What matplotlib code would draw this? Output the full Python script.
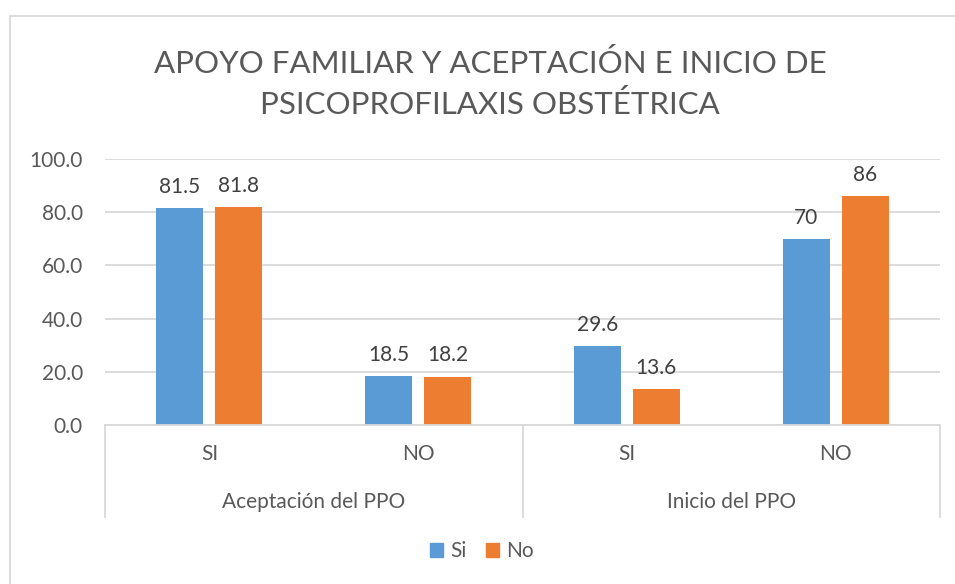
import numpy as np
import matplotlib
matplotlib.use("Agg")
import matplotlib.pyplot as plt
from matplotlib.patches import Rectangle, Patch
from matplotlib.transforms import blended_transform_factory

# Datos del gráfico
categorias = ["SI", "NO", "SI", "NO"]
grupos = ["Aceptación del PPO", "Inicio del PPO"]
serie_si = [81.5, 18.5, 29.6, 70]
serie_no = [81.8, 18.2, 13.6, 86]
etiquetas_si = ["81.5", "18.5", "29.6", "70"]
etiquetas_no = ["81.8", "18.2", "13.6", "86"]
titulo = "APOYO FAMILIAR Y ACEPTACIÓN E INICIO DE\nPSICOPROFILAXIS OBSTÉTRICA"

azul = "#5B9BD5"
naranja = "#ED7D31"
gris_texto = "#595959"
gris_linea = "#D9D9D9"

plt.rcParams["font.family"] = ["Lato", "DejaVu Sans"]
tam = 15

fig = plt.figure(figsize=(9.55, 5.84), dpi=100)
ax = fig.add_axes([105 / 955, 159 / 584, 835 / 955, 266 / 584])

x = np.arange(len(categorias))
ancho = 0.225
desp = 0.141
barras_si = ax.bar(x - desp, serie_si, ancho, color=azul, label="Si")
barras_no = ax.bar(x + desp, serie_no, ancho, color=naranja, label="No")

# Etiquetas de datos
for barras, etiquetas in [(barras_si, etiquetas_si), (barras_no, etiquetas_no)]:
    for b, t in zip(barras, etiquetas):
        ax.annotate(t, (b.get_x() + b.get_width() / 2, b.get_height()),
                    xytext=(0, 8), textcoords="offset points",
                    ha="center", va="bottom", fontsize=tam, color="#404040")

ax.set_ylim(0, 100)
ax.set_xlim(-0.5, 3.5)
ax.set_yticks(np.arange(0, 101, 20))
ax.yaxis.set_major_formatter(matplotlib.ticker.FormatStrFormatter("%.1f"))
ax.set_xticks(x)
ax.set_xticklabels(categorias)
ax.tick_params(axis="y", length=0, pad=16, labelsize=tam, labelcolor=gris_texto)
ax.tick_params(axis="x", length=0, pad=14, labelsize=tam, labelcolor=gris_texto)
ax.grid(axis="y", color=gris_linea, linewidth=1.3)
ax.set_axisbelow(True)
for s in ["top", "right", "left"]:
    ax.spines[s].set_visible(False)
ax.spines["bottom"].set_color(gris_linea)
ax.spines["bottom"].set_linewidth(1.3)

# Eje de categorías en dos niveles
tr = blended_transform_factory(ax.transData, ax.transAxes)
for xs in [-0.5, 1.5, 3.5]:
    ax.plot([xs, xs], [0, -0.346], transform=tr, color=gris_linea,
            linewidth=1.3, clip_on=False)
for i, g in enumerate(grupos):
    ax.text(2 * i + 0.5, -0.29, g, transform=tr, ha="center", va="center",
            fontsize=tam, color=gris_texto)

fig.text(490 / 955, 1 - 84 / 584, titulo, ha="center", va="center",
         fontsize=22.5, color=gris_texto, linespacing=1.5)

handles = [Patch(color=azul, label="Si"), Patch(color=naranja, label="No")]
fig.legend(handles=handles, loc="center", bbox_to_anchor=(482 / 955, 1 - 551 / 584),
           ncol=2, frameon=False, fontsize=tam, handlelength=0.65, handleheight=0.65,
           handletextpad=0.35, columnspacing=0.9, labelcolor=gris_texto)

# Marco del gráfico
fig.patches.append(Rectangle((10 / 955, -0.05), 1.0, 1 - 16 / 584 + 0.05,
                             transform=fig.transFigure, fill=False,
                             edgecolor=gris_linea, linewidth=1.3))

fig.savefig("out.png", dpi=100)
